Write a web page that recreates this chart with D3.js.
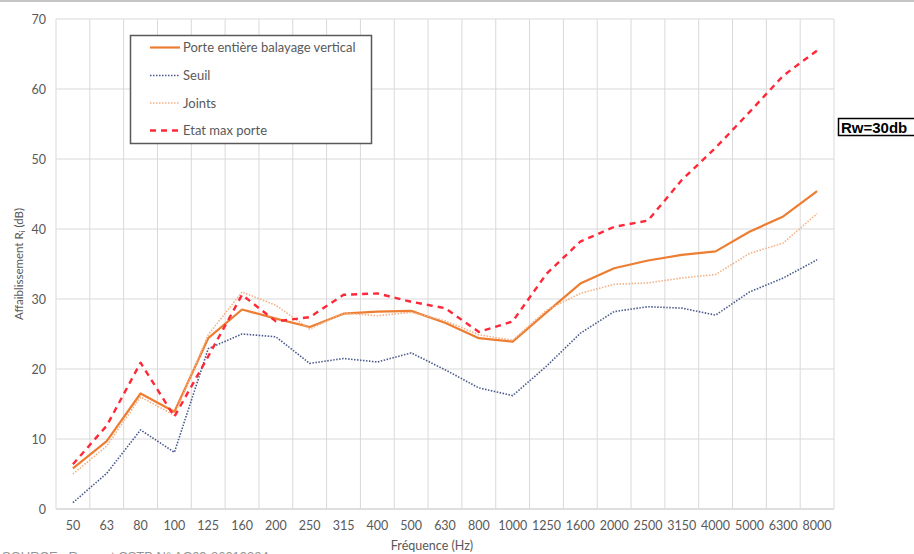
<!DOCTYPE html>
<html><head><meta charset="utf-8">
<script src="https://cdn.jsdelivr.net/npm/d3@7"></script>
<style>
html,body{margin:0;padding:0;background:#fff;}
svg{display:block;}
</style></head>
<body>
<svg id="chart" width="914" height="554"></svg>
<script>
const categories = ["50","63","80","100","125","160","200","250","315","400","500","630","800","1000","1250","1600","2000","2500","3150","4000","5000","6300","8000"];
const porteValues = [5.8,9.7,16.5,13.9,24.4,28.5,27.2,26.0,27.9,28.2,28.3,26.6,24.4,23.9,28.1,32.2,34.4,35.5,36.3,36.8,39.6,41.8,45.4];
const seuilValues = [0.9,5.1,11.3,8.1,22.9,25.0,24.6,20.8,21.5,21.0,22.3,19.9,17.3,16.2,20.4,25.1,28.2,28.9,28.7,27.7,31.0,33.0,35.6];
const jointsValues = [5.0,9.0,16.0,13.4,24.9,31.0,29.1,25.7,28.0,27.6,28.1,26.9,24.9,24.1,28.4,30.8,32.1,32.3,33.0,33.5,36.5,38.0,42.2];
const etatValues = [6.4,11.9,20.9,13.2,21.8,30.6,26.8,27.4,30.6,30.8,29.6,28.7,25.3,26.8,33.6,38.2,40.3,41.2,47.0,51.6,56.7,61.9,65.5];
const yTicks = [0,10,20,30,40,50,60,70];
const seriesNames = ["Porte entière balayage vertical","Seuil","Joints","Etat max porte"];

const svg = d3.select("#chart");
const font = "Lato, 'Open Sans', sans-serif";
const textCol = "#595959";
const plot = {left:56, right:834, top:19, bottom:509};

const x = d3.scaleBand().domain(categories).range([plot.left, plot.right]).paddingInner(0).paddingOuter(0);
const y = d3.scaleLinear().domain([0,70]).range([plot.bottom, plot.top]);

// top border
svg.append("rect").attr("x",0).attr("y",0).attr("width",914).attr("height",2).attr("fill","#c4c4c4");

// gridlines
const g = svg.append("g");
g.selectAll("line.h").data(yTicks).join("line")
  .attr("x1",plot.left).attr("x2",plot.right)
  .attr("y1",d=>y(d)).attr("y2",d=>y(d))
  .attr("stroke",d=>d===0?"#bfbfbf":"#d9d9d9").attr("stroke-width",1);
const bounds = categories.map(c=>x(c)).concat([plot.right]);
g.selectAll("line.v").data(bounds).join("line")
  .attr("x1",d=>d).attr("x2",d=>d)
  .attr("y1",plot.top).attr("y2",plot.bottom)
  .attr("stroke","#d9d9d9").attr("stroke-width",1);

// y axis labels
const yAxis = d3.axisLeft(y).tickValues(yTicks).tickSize(0).tickPadding(10);
const ya = svg.append("g").attr("transform",`translate(${plot.left},0)`).call(yAxis);
ya.select(".domain").remove();
ya.selectAll("text").attr("font-family",font).attr("font-size",12.5).attr("fill",textCol);

// x axis labels
const xAxis = d3.axisBottom(x).tickSize(0).tickPadding(12);
const xa = svg.append("g").attr("transform",`translate(0,${plot.bottom})`).call(xAxis);
xa.select(".domain").remove();
xa.selectAll("text").attr("font-family",font).attr("font-size",12.5).attr("fill",textCol);

// axis titles
const yt = svg.append("text").attr("transform","translate(23,264) rotate(-90)")
  .attr("text-anchor","middle").attr("font-family",font).attr("font-size",11.5).attr("fill",textCol);
yt.append("tspan").text("Affaiblissement R");
yt.append("tspan").attr("font-size",8).attr("dy",2).text("i");
yt.append("tspan").attr("dy",-2).text(" (dB)");
svg.append("text").attr("x",432).attr("y",550).attr("text-anchor","middle")
  .attr("font-family",font).attr("font-size",12.5).attr("fill",textCol).text("Fréquence (Hz)");

// source text (cut at bottom, as in the reference)
svg.append("text").attr("x",2).attr("y",561).attr("font-family","'Liberation Sans', Arial, sans-serif")
  .attr("font-size",13).attr("fill","#666").attr("opacity",0.7).text("SOURCE : Rapport CSTB N° AC09-26019324");

// lines
const line = d3.line().x((d,i)=>x(categories[i])+x.bandwidth()/2).y(d=>y(d));
const styles = [
  {vals:porteValues, color:"#ED7D31", w:2.2, dash:null},
  {vals:seuilValues, color:"#4A5A8C", w:1.6, dash:"1.5,1.5"},
  {vals:jointsValues, color:"#F4B183", w:1.6, dash:"1.5,1.5"},
  {vals:etatValues, color:"#FF2838", w:2.4, dash:"6,5"}
];
styles.forEach(s=>{
  svg.append("path").attr("d",line(s.vals)).attr("fill","none")
    .attr("stroke",s.color).attr("stroke-width",s.w)
    .attr("stroke-dasharray",s.dash).attr("stroke-linejoin","round");
});

// legend
const lg = svg.append("g");
lg.append("rect").attr("x",130.5).attr("y",35.5).attr("width",241).attr("height",108)
  .attr("fill","#fff").attr("stroke","#595959").attr("stroke-width",1.5);
const rowsY = [47.5,75.5,103,130.5];
seriesNames.forEach((n,i)=>{
  const s = styles[i];
  lg.append("line").attr("x1",150).attr("x2",180).attr("y1",rowsY[i]).attr("y2",rowsY[i])
    .attr("stroke",s.color).attr("stroke-width",s.w).attr("stroke-dasharray",s.dash);
  lg.append("text").attr("x",183).attr("y",rowsY[i]+4.5).attr("font-family",font)
    .attr("font-size",13).attr("fill",textCol).text(n);
});

// Rw box
svg.append("rect").attr("x",838.5).attr("y",118.5).attr("width",78).attr("height",17)
  .attr("fill","#fff").attr("stroke","#000").attr("stroke-width",1.5);
svg.append("text").attr("x",841).attr("y",132.5).attr("font-family","'Liberation Sans', Arial, sans-serif")
  .attr("font-size",15).attr("font-weight","bold").attr("fill","#000").text("Rw=30db");
</script>
</body></html>
